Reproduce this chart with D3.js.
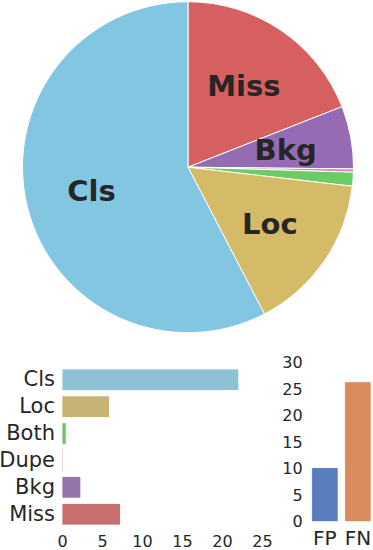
<!DOCTYPE html>
<html>
<head>
<meta charset="utf-8">
<script src="https://cdn.jsdelivr.net/npm/d3@7"></script>
<style>
  body { margin: 0; background: #fff; }
  svg { display: block; font-family: "DejaVu Sans", sans-serif; }
</style>
</head>
<body>
<div id="chart"></div>
<script>
// error types, in pie order (clockwise from 12 o'clock)
var pieTypes = ["Miss", "Bkg", "Dupe", "Both", "Loc", "Cls"];
// bar chart order (top to bottom)
var barTypes = ["Cls", "Loc", "Both", "Dupe", "Bkg", "Miss"];
var errorValues = { Cls: 22.1, Loc: 5.95, Both: 0.52, Dupe: 0.12, Bkg: 2.35, Miss: 7.3 };
var pieColors = { Cls: "#82c6e2", Loc: "#d5bb67", Both: "#6acc64", Dupe: "#dc7ec0", Bkg: "#956cb4", Miss: "#d65f5f" };
var barColors = { Cls: "#8ec1d6", Loc: "#c7b475", Both: "#76bf71", Dupe: "#d08abc", Bkg: "#9475ab", Miss: "#c76e6e" };
var pieLabeled = ["Miss", "Bkg", "Loc", "Cls"];

var fpfnCats = ["FP", "FN"];
var fpfnValues = [10.2, 26.4];
var fpfnColors = ["#597dbf", "#d98b5e"];
var xTicks = [0, 5, 10, 15, 20, 25];
var yTicks = [0, 5, 10, 15, 20, 25, 30];

var width = 373, height = 550;
var textColor = "#262626";

var svg = d3.select("#chart").append("svg")
  .attr("width", width)
  .attr("height", height);

// ---- pie ----
var cx = 188, cy = 167.2, r = 165.5;
var pie = d3.pie().sort(null).value(d => errorValues[d]);
var arc = d3.arc().innerRadius(0).outerRadius(r);
var labelArc = d3.arc().innerRadius(r * 0.6).outerRadius(r * 0.6);
var arcs = pie(pieTypes);

var pg = svg.append("g").attr("transform", `translate(${cx},${cy})`);
pg.selectAll("path")
  .data(arcs)
  .join("path")
  .attr("d", arc)
  .attr("fill", d => pieColors[d.data])
  .attr("stroke", "#fff")
  .attr("stroke-width", 1);

pg.selectAll("text")
  .data(arcs.filter(d => pieLabeled.includes(d.data)))
  .join("text")
  .attr("transform", d => `translate(${labelArc.centroid(d)})`)
  .attr("text-anchor", "middle")
  .attr("dy", "0.36em")
  .style("font-size", "29px")
  .style("font-weight", "bold")
  .attr("fill", textColor)
  .text(d => d.data);

// ---- horizontal bars ----
var x_scale = d3.scaleLinear().domain([0, 25]).range([62, 262]);
var y_band = d3.scaleBand().domain(barTypes).range([366.3, 527.7])
  .paddingInner(0.2).paddingOuter(0.1);

svg.append("g").selectAll("rect")
  .data(barTypes)
  .join("rect")
  .attr("x", x_scale(0))
  .attr("y", d => y_band(d))
  .attr("width", d => x_scale(errorValues[d]) - x_scale(0))
  .attr("height", y_band.bandwidth())
  .attr("fill", d => barColors[d])
  .attr("stroke", "#fff")
  .attr("stroke-width", 0.8);

var xa = svg.append("g")
  .attr("transform", "translate(0,527.7)")
  .call(d3.axisBottom(x_scale).tickValues(xTicks).tickSize(0).tickPadding(7.6));
xa.select(".domain").remove();
xa.selectAll("text").style("font-size", "16px").attr("fill", textColor)
  .style("font-family", "DejaVu Sans");

var ya = svg.append("g")
  .attr("transform", `translate(${x_scale(0)},0)`)
  .call(d3.axisLeft(y_band).tickSize(0).tickPadding(7));
ya.select(".domain").remove();
ya.selectAll("text").style("font-size", "21px").attr("fill", textColor)
  .style("font-family", "DejaVu Sans");

// ---- FP / FN bars ----
var x2 = d3.scaleBand().domain(fpfnCats).range([308.4, 374.4])
  .paddingInner(0.2).paddingOuter(0.1);
var y2 = d3.scaleLinear().domain([0, 30]).range([521.7, 362.7]);

svg.append("g").selectAll("rect")
  .data(fpfnCats)
  .join("rect")
  .attr("x", d => x2(d))
  .attr("y", (d, i) => y2(fpfnValues[i]))
  .attr("width", x2.bandwidth())
  .attr("height", (d, i) => y2(0) - y2(fpfnValues[i]))
  .attr("fill", (d, i) => fpfnColors[i])
  .attr("stroke", "#fff")
  .attr("stroke-width", 0.8);

var xa2 = svg.append("g")
  .attr("transform", "translate(0,521.7)")
  .call(d3.axisBottom(x2).tickSize(0).tickPadding(9));
xa2.select(".domain").remove();
xa2.selectAll("text").style("font-size", "20px").attr("fill", textColor)
  .style("font-family", "DejaVu Sans");

var ya2 = svg.append("g")
  .attr("transform", "translate(308.4,0)")
  .call(d3.axisLeft(y2).tickValues(yTicks).tickSize(0).tickPadding(5.7));
ya2.select(".domain").remove();
ya2.selectAll("text").style("font-size", "16px").attr("fill", textColor)
  .style("font-family", "DejaVu Sans");
</script>
</body>
</html>
